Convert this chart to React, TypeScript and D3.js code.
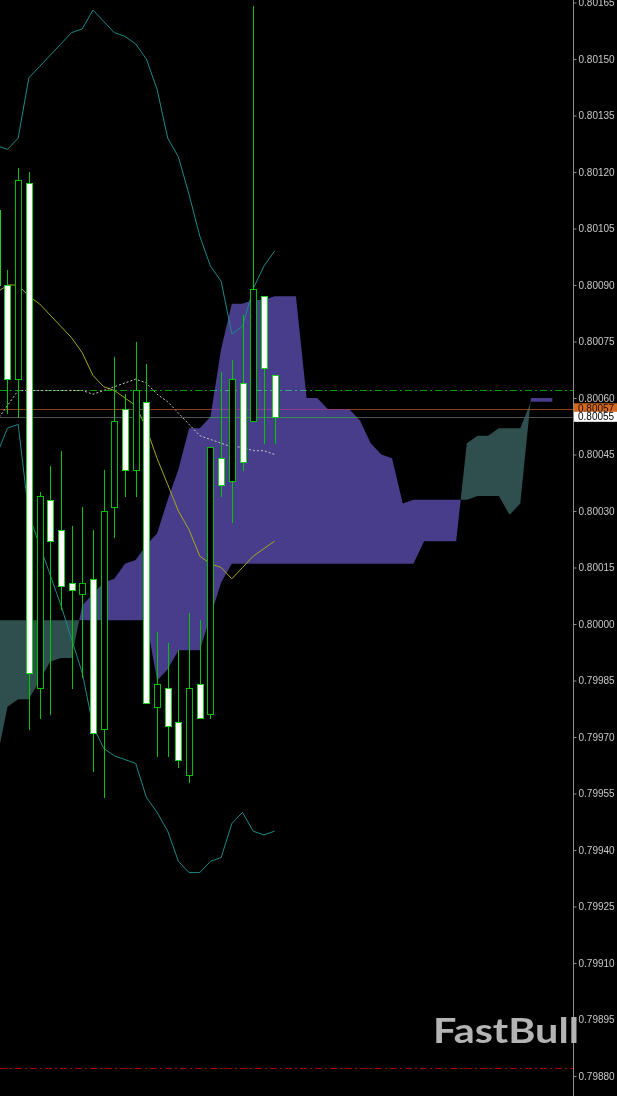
import { useEffect, useRef } from "react"
import * as d3 from "d3"

const W = 617
const H = 1096
const plotRight = 573

// candles, bar 0 is clipped at the left edge
const opens = [0.80110, 0.80090, 0.80065, 0.80117, 0.79983, 0.80033, 0.80025, 0.80011, 0.80008, 0.80012, 0.79972, 0.80031, 0.80057, 0.80041, 0.80059, 0.79978, 0.79983, 0.79974, 0.79960, 0.79984, 0.79976, 0.80044, 0.80038, 0.80064, 0.80054, 0.80087, 0.80066]
const highs = [0.80113, 0.80094, 0.80121, 0.80120, 0.80035, 0.80042, 0.80046, 0.80026, 0.80031, 0.80025, 0.80041, 0.80071, 0.80061, 0.80075, 0.80069, 0.79998, 0.79995, 0.79993, 0.80003, 0.80001, 0.80047, 0.80067, 0.80070, 0.80082, 0.80164, 0.80087, 0.80066]
const lows = [0.80086, 0.80056, 0.80055, 0.79972, 0.79975, 0.79976, 0.80004, 0.79983, 0.79986, 0.79961, 0.79954, 0.80023, 0.80034, 0.80034, 0.79979, 0.79965, 0.79965, 0.79962, 0.79958, 0.79975, 0.79975, 0.80034, 0.80027, 0.80041, 0.80054, 0.80048, 0.80048]
const closes = [0.80090, 0.80065, 0.80118, 0.79987, 0.80034, 0.80022, 0.80010, 0.80009, 0.80011, 0.79971, 0.80030, 0.80054, 0.80041, 0.80062, 0.79979, 0.79984, 0.79973, 0.79964, 0.79983, 0.79975, 0.80047, 0.80037, 0.80065, 0.80043, 0.80089, 0.80068, 0.80055]

// ichimoku spans (shifted 26 bars ahead)
const spanA = [0.79964, 0.79978, 0.79980, 0.79980, 0.79985, 0.79990, 0.79991, 0.79991, 0.80005, 0.80008, 0.80011, 0.80012, 0.80016, 0.80017, 0.80021, 0.80024, 0.80033, 0.80041, 0.80052, 0.80052, 0.80055, 0.80073, 0.80085, 0.80085, 0.80086, 0.80086, 0.80087, 0.80087, 0.80087, 0.80060, 0.80060, 0.80057, 0.80057, 0.80057, 0.80054, 0.80048, 0.80045, 0.80044, 0.80032, 0.80033, 0.80033, 0.80033, 0.80033, 0.80033, 0.80033, 0.80034, 0.80034, 0.80034, 0.80029, 0.80032, 0.80060, 0.80060, 0.80060]
const spanB = [0.80001, 0.80001, 0.80001, 0.80001, 0.80001, 0.80001, 0.80001, 0.80001, 0.80001, 0.80001, 0.80001, 0.80001, 0.80001, 0.80001, 0.80001, 0.79985, 0.79988, 0.79993, 0.79993, 0.79993, 0.80002, 0.80011, 0.80016, 0.80016, 0.80016, 0.80016, 0.80016, 0.80016, 0.80016, 0.80016, 0.80016, 0.80016, 0.80016, 0.80016, 0.80016, 0.80016, 0.80016, 0.80016, 0.80016, 0.80016, 0.80022, 0.80022, 0.80022, 0.80022, 0.80048, 0.80050, 0.80050, 0.80052, 0.80052, 0.80052, 0.80059, 0.80059, 0.80059]

// bollinger bands
const bandUpper = [0.80127, 0.80126, 0.80129, 0.80145, 0.80148, 0.80151, 0.80154, 0.80157, 0.80158, 0.80163, 0.80160, 0.80157, 0.80156, 0.80154, 0.80150, 0.80142, 0.80129, 0.80124, 0.80114, 0.80103, 0.80095, 0.80091, 0.80077, 0.80079, 0.80089, 0.80095, 0.80099]
const bandLower = [0.80045, 0.80052, 0.80053, 0.80029, 0.80021, 0.80013, 0.80005, 0.79996, 0.79987, 0.79973, 0.79967, 0.79965, 0.79964, 0.79963, 0.79954, 0.79950, 0.79945, 0.79937, 0.79934, 0.79934, 0.79937, 0.79938, 0.79947, 0.79950, 0.79945, 0.79944, 0.79945]

// yellow moving average and white dotted one
const maYellow = [0.80088, 0.80090, 0.80090, 0.80087, 0.80085, 0.80082, 0.80079, 0.80076, 0.80072, 0.80066, 0.80063, 0.80062, 0.80060, 0.80058, 0.80052, 0.80044, 0.80037, 0.80030, 0.80025, 0.80018, 0.80016, 0.80015, 0.80012, 0.80015, 0.80018, 0.80020, 0.80022]
const maDotted = [0.80054, 0.80058, 0.80062, 0.80062, 0.80062, 0.80062, 0.80062, 0.80062, 0.80062, 0.80061, 0.80062, 0.80063, 0.80064, 0.80065, 0.80064, 0.80061, 0.80059, 0.80056, 0.80053, 0.80050, 0.80049, 0.80048, 0.80047, 0.80047, 0.80046, 0.80046, 0.80045]

const priceTicks = [0.80165, 0.80150, 0.80135, 0.80120, 0.80105, 0.80090, 0.80075, 0.80060, 0.80045, 0.80030, 0.80015, 0.80000, 0.79985, 0.79970, 0.79955, 0.79940, 0.79925, 0.79910, 0.79895, 0.79880]

const levelHigh = 0.80062
const askPrice = 0.80057
const bidPrice = 0.80055
const levelLow = 0.79882

export default function App() {
  const ref = useRef(null)

  useEffect(() => {
    const svg = d3.select(ref.current)
    svg.selectAll("*").remove()

    const x = d3.scaleLinear().domain([0, 52]).range([-3.2, 552.3])
    const y = d3.scaleLinear().domain([0.79880, 0.80165]).range([1076, 2.5])
    const fmt = d3.format(".5f")

    svg.append("rect").attr("width", W).attr("height", H).attr("fill", "#000")

    const plot = svg.append("g")

    // cloud, split into runs where span A is above/below span B
    const pts = spanA.map((a, i) => ({ i, a, b: spanB[i] }))
    const runs = []
    let cur = [pts[0]]
    for (let k = 1; k < pts.length; k++) {
      const p0 = pts[k - 1], p1 = pts[k]
      const d0 = p0.a - p0.b, d1 = p1.a - p1.b
      if (d0 * d1 < 0) {
        const t = d0 / (d0 - d1)
        const v = p0.a + t * (p1.a - p0.a)
        const cross = { i: p0.i + t, a: v, b: v }
        cur.push(cross)
        runs.push(cur)
        cur = [cross, p1]
      } else cur.push(p1)
    }
    runs.push(cur)

    const area = d3.area()
      .x(d => x(d.i))
      .y0(d => y(d.b))
      .y1(d => y(d.a))

    const defs = svg.append("defs")
    const clip = defs.append("clipPath").attr("id", "cloudclip")

    runs.forEach(r => {
      const up = d3.sum(r, d => d.a - d.b) > 0
      plot.append("path")
        .attr("d", area(r))
        .attr("fill", up ? "#483d8b" : "#2f4f4f")
      if (up) clip.append("path").attr("d", area(r))
    })

    const line = d3.line().x((d, i) => x(i)).y(d => y(d))

    plot.append("path").attr("d", line(bandUpper)).attr("fill", "none").attr("stroke", "#1c8a86").attr("stroke-width", 1)
    plot.append("path").attr("d", line(bandLower)).attr("fill", "none").attr("stroke", "#1c8a86").attr("stroke-width", 1)
    plot.append("path").attr("d", line(maYellow)).attr("fill", "none").attr("stroke", "#a8a818").attr("stroke-width", 1)
    plot.append("path").attr("d", line(maDotted)).attr("fill", "none").attr("stroke", "#c8c8c8").attr("stroke-width", 1).attr("stroke-dasharray", "2,2")

    // horizontal levels
    const hline = (v, color, dash) => plot.append("line")
      .attr("x1", 0).attr("x2", plotRight)
      .attr("y1", Math.round(y(v)) + 0.5).attr("y2", Math.round(y(v)) + 0.5)
      .attr("stroke", color)
      .attr("stroke-dasharray", dash)
      .style("mix-blend-mode", "lighten")

    hline(levelHigh, "#00a000", "7,3,2,3")
    hline(askPrice, "#8c3c1e", null)
    hline(bidPrice, "#505050", null)
    plot.append("line")
      .attr("x1", 0).attr("x2", plotRight)
      .attr("y1", Math.round(y(bidPrice)) + 0.5).attr("y2", Math.round(y(bidPrice)) + 0.5)
      .attr("stroke", "#3f8a55")
      .attr("clip-path", "url(#cloudclip)")
    hline(levelLow, "#a00000", "7,3,2,3")

    // candles drawn with filled rects only (wick, outline, inner body)
    const candles = opens.map((o, i) => ({ i, o, h: highs[i], l: lows[i], c: closes[i] }))
    const cg = svg.append("g").attr("shape-rendering", "crispEdges")
    const cx = d => Math.round(x(d.i))
    const top = d => Math.round(y(Math.max(d.o, d.c)))
    const bot = d => Math.max(top(d) + 2, Math.round(y(Math.min(d.o, d.c))) + 1)

    cg.selectAll("rect.wick").data(candles).join("rect")
      .attr("class", "wick")
      .attr("x", cx)
      .attr("width", 1)
      .attr("y", d => Math.round(y(d.h)))
      .attr("height", d => Math.round(y(d.l)) - Math.round(y(d.h)) + 1)
      .attr("fill", "#00c800")
    cg.selectAll("rect.frame").data(candles).join("rect")
      .attr("class", "frame")
      .attr("x", d => cx(d) - 3)
      .attr("width", 7)
      .attr("y", top)
      .attr("height", d => bot(d) - top(d))
      .attr("fill", d => d.c < d.o ? "#22d022" : "#00c000")
    cg.selectAll("rect.inner").data(candles).join("rect")
      .attr("class", "inner")
      .attr("x", d => cx(d) - 2)
      .attr("width", 5)
      .attr("y", d => top(d) + 1)
      .attr("height", d => Math.max(0, bot(d) - top(d) - 2))
      .attr("fill", d => d.c < d.o ? "#ffffff" : "#000000")

    // price axis
    svg.append("line")
      .attr("x1", plotRight + 0.5).attr("x2", plotRight + 0.5)
      .attr("y1", 0).attr("y2", H)
      .attr("stroke", "#8c8c8c")

    svg.append("g")
      .attr("transform", `translate(${plotRight + 0.5},0)`)
      .call(d3.axisRight(y).tickValues(priceTicks).tickFormat(fmt).tickSize(3).tickPadding(2))
      .call(g => g.select(".domain").remove())
      .call(g => g.selectAll(".tick line").attr("stroke", "#8c8c8c"))
      .call(g => g.selectAll(".tick text")
        .attr("fill", "#c8c8c8")
        .attr("font-family", "'Liberation Sans', Arial, sans-serif")
        .attr("font-size", 10))

    const tags = [
      { v: askPrice, bg: "#d2691e", fg: "#1e0c00" },
      { v: bidPrice, bg: "#ffffff", fg: "#000000" }
    ]
    tags.forEach(t => {
      const cy = y(t.v) - (t.v === askPrice ? 1 : 0)
      svg.append("rect")
        .attr("x", plotRight + 1).attr("y", cy - 5)
        .attr("width", W - plotRight - 1).attr("height", 10)
        .attr("fill", t.bg)
      svg.append("text")
        .attr("x", plotRight + 5).attr("y", cy)
        .attr("dy", "0.35em")
        .attr("fill", t.fg)
        .attr("font-family", "'Liberation Sans', Arial, sans-serif")
        .attr("font-size", 10)
        .text(fmt(t.v))
    })

    // watermark
    svg.append("text")
      .attr("x", 433).attr("y", 1043)
      .attr("fill", "#b4b4b4")
      .attr("font-family", "Lato, 'Open Sans', sans-serif")
      .attr("font-weight", 700)
      .attr("font-size", 35)
      .attr("textLength", 146)
      .attr("lengthAdjust", "spacingAndGlyphs")
      .text("FastBull")
  }, [])

  return (
    <svg ref={ref} width={W} height={H} style={{ position: "absolute", left: 0, top: 0, display: "block" }} />
  )
}
